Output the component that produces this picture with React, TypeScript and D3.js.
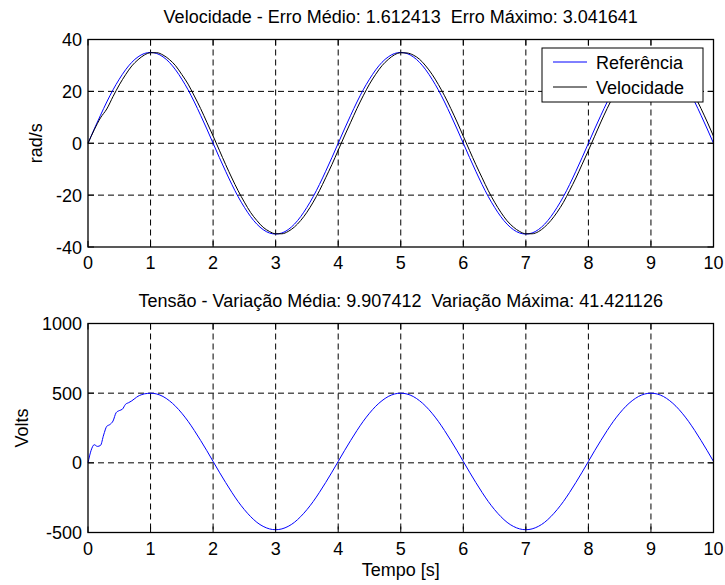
import React from "react";
import * as d3 from "d3";

const xTicks = [0, 1, 2, 3, 4, 5, 6, 7, 8, 9, 10];
const velTicks = [-40, -20, 0, 20, 40];
const voltTicks = [-500, 0, 500, 1000];

// sampling grid (s)
const timeGrid = d3.range(0, 101).map((i) => i / 10);

const referencia = [
  0, 5.5, 10.8, 15.9, 20.6, 24.7, 28.3, 31.2, 33.3, 34.6,
  35, 34.6, 33.3, 31.2, 28.3, 24.7, 20.6, 15.9, 10.8, 5.5,
  0, -5.5, -10.8, -15.9, -20.6, -24.7, -28.3, -31.2, -33.3, -34.6,
  -35, -34.6, -33.3, -31.2, -28.3, -24.7, -20.6, -15.9, -10.8, -5.5,
  0, 5.5, 10.8, 15.9, 20.6, 24.7, 28.3, 31.2, 33.3, 34.6,
  35, 34.6, 33.3, 31.2, 28.3, 24.7, 20.6, 15.9, 10.8, 5.5,
  0, -5.5, -10.8, -15.9, -20.6, -24.7, -28.3, -31.2, -33.3, -34.6,
  -35, -34.6, -33.3, -31.2, -28.3, -24.7, -20.6, -15.9, -10.8, -5.5,
  0, 5.5, 10.8, 15.9, 20.6, 24.7, 28.3, 31.2, 33.3, 34.6,
  35, 34.6, 33.3, 31.2, 28.3, 24.7, 20.6, 15.9, 10.8, 5.5,
  0,
];

const velocidade = [
  0, 5.2, 9.8, 13.2, 18.0, 22.5, 26.4, 29.8, 32.2, 34.0,
  34.9, 34.9, 34.0, 32.3, 29.9, 26.5, 22.8, 18.2, 13.4, 8.1,
  2.8, -2.7, -8.2, -13.4, -18.3, -22.7, -26.7, -29.8, -32.4, -34.0,
  -34.9, -34.9, -34.0, -32.3, -29.8, -26.6, -22.7, -18.3, -13.3, -8.2,
  -2.7, 2.8, 8.1, 13.4, 18.3, 22.8, 26.6, 29.9, 32.3, 34.1,
  34.9, 34.8, 34.0, 32.4, 29.8, 26.6, 22.7, 18.3, 13.4, 8.2,
  2.7, -2.8, -8.2, -13.3, -18.3, -22.7, -26.6, -29.9, -32.3, -34.0,
  -34.9, -34.9, -34.1, -32.3, -29.8, -26.6, -22.8, -18.2, -13.4, -8.1,
  -2.8, 2.7, 8.2, 13.4, 18.2, 22.7, 26.7, 29.8, 32.3, 34.0,
  34.9, 34.9, 34.0, 32.3, 29.8, 26.6, 22.7, 18.3, 13.4, 8.2,
  2.7,
];

const tensaoTempo = [
  0, 0.05, 0.1, 0.15, 0.2, 0.25, 0.3, 0.35, 0.4, 0.45,
  0.5, 0.55, 0.6, 0.65, 0.7, 0.75, 0.8, 0.85, 0.9, 0.95,
  ...d3.range(10, 101).map((i) => i / 10),
];

const tensao = [
  0, 90, 130, 118, 125, 200, 262, 275, 300, 360,
  375, 385, 420, 432, 445, 462, 478, 488, 495, 498,
  500, 494, 476, 446, 406, 356, 298, 232, 161, 87,
  10, -67, -141, -212, -278, -336, -386, -427, -456, -474,
  -480, -474, -456, -427, -386, -336, -278, -212, -141, -67,
  10, 87, 161, 232, 298, 356, 406, 446, 476, 494,
  500, 494, 476, 446, 406, 356, 298, 232, 161, 87,
  10, -67, -141, -212, -278, -336, -386, -427, -456, -474,
  -480, -474, -456, -427, -386, -336, -278, -212, -141, -67,
  10, 87, 161, 232, 298, 356, 406, 446, 476, 494,
  500, 494, 476, 446, 406, 356, 298, 232, 161, 87,
  10,
];

const W = 725;
const H = 585;
const FONT = "'Liberation Sans', Arial, sans-serif";
const FS = 18;

const X0 = 88;
const X1 = 713.5;

type PanelProps = {
  top: number;
  bottom: number;
  yDomain: [number, number];
  yTicks: number[];
  title: string;
  titleY: number;
  yLabel: string;
  yLabelX: number;
  children: (x: d3.ScaleLinear<number, number>, y: d3.ScaleLinear<number, number>) => React.ReactNode;
};

function Panel({ top, bottom, yDomain, yTicks, title, titleY, yLabel, yLabelX, children }: PanelProps) {
  const x = d3.scaleLinear().domain([0, 10]).range([X0, X1]);
  const y = d3.scaleLinear().domain(yDomain).range([bottom, top]);
  const tickLen = 6;
  const midY = (top + bottom) / 2;
  return (
    <g>
      {/* grid */}
      {xTicks.slice(1, -1).map((t) => (
        <line key={"gx" + t} x1={x(t)} x2={x(t)} y1={top} y2={bottom} stroke="#000" strokeWidth={1} strokeDasharray="6,4" />
      ))}
      {yTicks.slice(1, -1).map((t) => (
        <line key={"gy" + t} x1={X0} x2={X1} y1={y(t)} y2={y(t)} stroke="#000" strokeWidth={1} strokeDasharray="6,4" />
      ))}
      {/* data */}
      <g clipPath={undefined}>{children(x, y)}</g>
      {/* box */}
      <rect x={X0} y={top} width={X1 - X0} height={bottom - top} fill="none" stroke="#000" strokeWidth={1.3} />
      {/* ticks */}
      {xTicks.map((t) => (
        <g key={"tx" + t}>
          <line x1={x(t)} x2={x(t)} y1={bottom} y2={bottom - tickLen} stroke="#000" />
          <line x1={x(t)} x2={x(t)} y1={top} y2={top + tickLen} stroke="#000" />
          <text x={x(t)} y={bottom + 22} textAnchor="middle" fontFamily={FONT} fontSize={FS} fill="#000">
            {t}
          </text>
        </g>
      ))}
      {yTicks.map((t) => (
        <g key={"ty" + t}>
          <line x1={X0} x2={X0 + tickLen} y1={y(t)} y2={y(t)} stroke="#000" />
          <line x1={X1} x2={X1 - tickLen} y1={y(t)} y2={y(t)} stroke="#000" />
          <text x={X0 - 6} y={y(t) + 6.5} textAnchor="end" fontFamily={FONT} fontSize={FS} fill="#000">
            {t}
          </text>
        </g>
      ))}
      <text x={(X0 + X1) / 2} y={titleY} textAnchor="middle" fontFamily={FONT} fontSize={FS} fill="#000" style={{ whiteSpace: "pre" }}>
        {title}
      </text>
      <text
        transform={`translate(${yLabelX},${midY}) rotate(-90)`}
        textAnchor="middle"
        fontFamily={FONT}
        fontSize={FS}
        fill="#000"
      >
        {yLabel}
      </text>
    </g>
  );
}

export default function App() {
  const refData = timeGrid.map((t, i) => [t, referencia[i]] as [number, number]);
  const velData = timeGrid.map((t, i) => [t, velocidade[i]] as [number, number]);
  const tenData = tensaoTempo.map((t, i) => [t, tensao[i]] as [number, number]);

  return (
    <svg width={W} height={H} style={{ position: "absolute", left: 0, top: 0, background: "#fff" }}>
      <rect width={W} height={H} fill="#fff" />
      <Panel
        top={39.5}
        bottom={247}
        yDomain={[-40, 40]}
        yTicks={velTicks}
        title={"Velocidade - Erro Médio: 1.612413  Erro Máximo: 3.041641"}
        titleY={22.5}
        yLabel="rad/s"
        yLabelX={42}
      >
        {(x, y) => {
          const line = d3
            .line<[number, number]>()
            .x((d) => x(d[0]))
            .y((d) => y(d[1]))
            .curve(d3.curveMonotoneX);
          return (
            <g>
              <path d={line(refData) || ""} fill="none" stroke="#0000ff" strokeWidth={1} />
              <path d={line(velData) || ""} fill="none" stroke="#000" strokeWidth={1} />
            </g>
          );
        }}
      </Panel>
      <Panel
        top={323.5}
        bottom={532.5}
        yDomain={[-500, 1000]}
        yTicks={voltTicks}
        title={"Tensão - Variação Média: 9.907412  Variação Máxima: 41.421126"}
        titleY={306.5}
        yLabel="Volts"
        yLabelX={28}
      >
        {(x, y) => {
          const line = d3
            .line<[number, number]>()
            .x((d) => x(d[0]))
            .y((d) => y(d[1]))
            .curve(d3.curveMonotoneX);
          return <path d={line(tenData) || ""} fill="none" stroke="#0000ff" strokeWidth={1} />;
        }}
      </Panel>
      {/* legend */}
      <g>
        <rect x={542} y={48} width={161} height={54} fill="#fff" stroke="#000" strokeWidth={1} />
        <line x1={553} x2={587} y1={62} y2={62} stroke="#0000ff" strokeWidth={1} />
        <text x={596} y={68.5} fontFamily={FONT} fontSize={FS} fill="#000">
          Referência
        </text>
        <line x1={553} x2={587} y1={87} y2={87} stroke="#000" strokeWidth={1} />
        <text x={596} y={93.5} fontFamily={FONT} fontSize={FS} fill="#000">
          Velocidade
        </text>
      </g>
      <text x={(X0 + X1) / 2} y={576} textAnchor="middle" fontFamily={FONT} fontSize={FS} fill="#000">
        Tempo [s]
      </text>
    </svg>
  );
}
